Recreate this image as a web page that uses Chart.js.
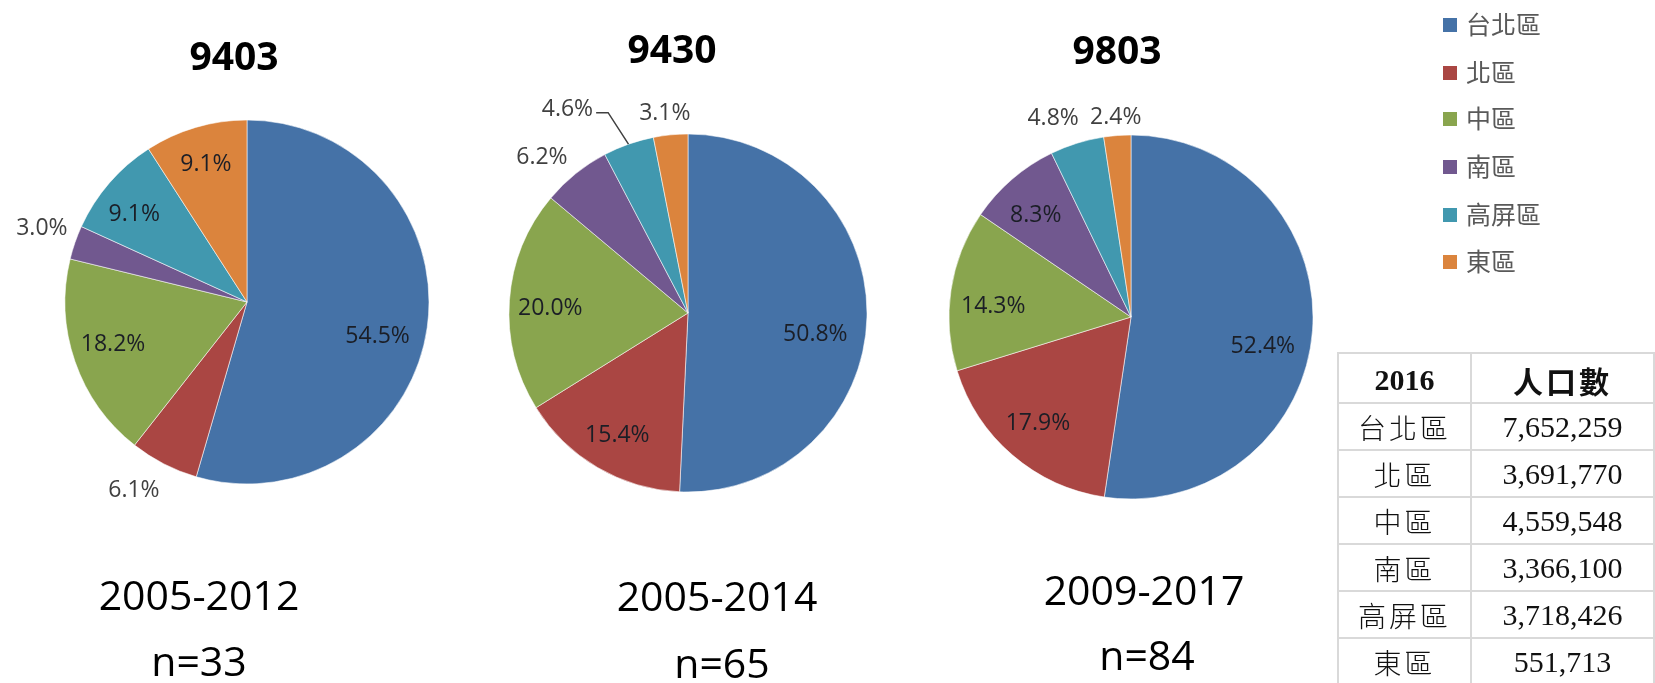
<!DOCTYPE html>
<html>
<head>
<meta charset="utf-8">
<script src="https://cdn.jsdelivr.net/npm/chart.js@4.4.1/dist/chart.umd.min.js"></script>
<style>
  html, body { margin: 0; padding: 0; background: #fff; }
  #stage { position: relative; width: 1655px; height: 683px; overflow: hidden; }
  #stage canvas { position: absolute; left: 0; top: 0; }
  .txt { position: absolute; transform: translateX(-50%); white-space: nowrap;
         font-family: "Open Sans", sans-serif; color: #000; line-height: 1; }
  .ttl { font-weight: 700; font-size: 39px; }
  .cap { font-size: 41px; }
  .lg { position: absolute; left: 1466px; line-height: 1; white-space: nowrap;
        font-family: "Noto Sans CJK TC", sans-serif; font-size: 25px; color: #595959; }
  .lg .sw { position: absolute; left: -23px; width: 14px; height: 14px; }
  #pop { position: absolute; left: 1337px; top: 352px; border-collapse: collapse;
         font-family: "Liberation Serif", "Noto Sans CJK TC", serif; font-size: 30px; color: #111; }
  #pop td { border: 2px solid #d9d9d9; padding: 0; text-align: center; vertical-align: middle; }
  #pop tr.head td { font-weight: 700; height: 43px; padding-top: 4px; }
  #pop tr.body td { height: 45px; }
  #pop .reg { letter-spacing: 3px; }
  #pop tr.body .reg { font-weight: 300; font-size: 28px; }
</style>
</head>
<body>
<div id="stage">
  <canvas id="pie1" width="1655" height="683"></canvas>
  <canvas id="pie2" width="1655" height="683"></canvas>
  <canvas id="pie3" width="1655" height="683"></canvas>
  <table id="pop"></table>
</div>
<script>
/* ── data ─────────────────────────────────────────────── */
const regions      = ["台北區", "北區", "中區", "南區", "高屏區", "東區"];
const regionColors = ["#4572a7", "#aa4643", "#89a54e", "#71588f", "#4198af", "#db843d"];

const chartCodes  = ["9403", "9430", "9803"];
const periods     = ["2005-2012", "2005-2014", "2009-2017"];
const sampleSizes = [33, 65, 84];

const share9403 = [54.5, 6.1, 18.2, 3.0, 9.1, 9.1];
const share9430 = [50.8, 15.4, 20.0, 6.2, 4.6, 3.1];
const share9803 = [52.4, 17.9, 14.3, 8.3, 4.8, 2.4];

const popYear        = "2016";
const popHeader      = "人口數";
const population2016 = [7652259, 3691770, 4559548, 3366100, 3718426, 551713];

/* ── layout (pie centres, radii, label placement) ─────── */
const W = 1655, H = 683;
const pies = [
  { id: "pie1", data: share9403, cx: 247,  cy: 302, r: 182,
    title: { x: 234, y: 56 }, cap: { x: 199, y: 596 }, n: { x: 199, y: 662 },
    dist: [0.74, 1.2, 0.77, 1.2, 0.79, 0.80], turn: [6, 4, 2, 1, -2.5, 0], leader: [] },
  { id: "pie2", data: share9430, cx: 688,  cy: 313, r: 179,
    title: { x: 672, y: 49 }, cap: { x: 717, y: 597 }, n: { x: 722, y: 664 },
    dist: [0.72, 0.78, 0.77, 1.2, 1.33, 1.13], turn: [7.5, 0, -1.5, -4, -11, -1], leader: [4] },
  { id: "pie3", data: share9803, cx: 1131, cy: 317, r: 182,
    title: { x: 1117, y: 50 }, cap: { x: 1144, y: 591 }, n: { x: 1147, y: 656 },
    dist: [0.74, 0.77, 0.76, 0.77, 1.18, 1.11], turn: [7.5, 1, -3.4, -2, -4, 0], leader: [] },
];
const legendY = [25, 73, 119, 167, 215, 262];

/* percentage labels, inside or outside the slice */
const pieLabels = {
  id: "pieLabels",
  afterDatasetsDraw(chart, args, opts) {
    const ctx = chart.ctx;
    const vals = chart.data.datasets[0].data;
    const fs = 23;
    chart.getDatasetMeta(0).data.forEach((arc, i) => {
      const p = arc.getProps(["x", "y", "startAngle", "endAngle", "outerRadius"], true);
      const mid = (p.startAngle + p.endAngle) / 2;
      const ang = mid + opts.turn[i] * Math.PI / 180;
      const lx = p.x + Math.cos(ang) * p.outerRadius * opts.dist[i];
      const ly = p.y + Math.sin(ang) * p.outerRadius * opts.dist[i];
      const text = vals[i].toFixed(1) + "%";
      ctx.save();
      ctx.font = fs + 'px "Open Sans"';
      ctx.textAlign = "center";
      ctx.textBaseline = "alphabetic";
      ctx.fillStyle = opts.dist[i] > 1 ? "#404040" : "#1b1e26";
      ctx.fillText(text, lx, ly + fs * 0.357);
      if (opts.leader.includes(i)) {
        const w = ctx.measureText(text).width;
        const sx = lx + w / 2 + 3, sy = ly + 5;
        ctx.strokeStyle = "#404040";
        ctx.lineWidth = 1.5;
        ctx.beginPath();
        ctx.moveTo(sx, sy);
        ctx.lineTo(sx + 12, sy);
        ctx.lineTo(p.x + Math.cos(mid) * p.outerRadius, p.y + Math.sin(mid) * p.outerRadius);
        ctx.stroke();
      }
      ctx.restore();
    });
  },
};

/* ── charts ───────────────────────────────────────────── */
pies.forEach((pc) => {
  new Chart(document.getElementById(pc.id), {
    type: "pie",
    data: {
      labels: regions,
      datasets: [{
        data: pc.data,
        backgroundColor: regionColors,
        borderColor: "rgba(255,255,255,0.55)",
        borderWidth: 1,
      }],
    },
    options: {
      responsive: false,
      animation: false,
      events: [],
      layout: {
        padding: {
          left: pc.cx - pc.r - 0.5,
          top: pc.cy - pc.r - 0.5,
          right: W - pc.cx - pc.r - 0.5,
          bottom: H - pc.cy - pc.r - 0.5,
        },
      },
      plugins: {
        legend: { display: false },
        tooltip: { enabled: false },
        pieLabels: { dist: pc.dist, turn: pc.turn, leader: pc.leader },
      },
    },
    plugins: [pieLabels],
  });
});

/* ── titles and captions ──────────────────────────────── */
const stage = document.getElementById("stage");
function addText(cls, text, x, y, fs) {
  const el = document.createElement("div");
  el.className = "txt " + cls;
  el.textContent = text;
  el.style.left = x + "px";
  el.style.top = (y - fs * 0.531) + "px";
  stage.appendChild(el);
}
pies.forEach((pc, i) => {
  addText("ttl", chartCodes[i], pc.title.x, pc.title.y, 39);
  addText("cap", periods[i], pc.cap.x, pc.cap.y, 41);
  addText("cap", "n=" + sampleSizes[i], pc.n.x, pc.n.y, 41);
});

/* ── legend ───────────────────────────────────────────── */
regions.forEach((name, i) => {
  const fs = 25;
  const item = document.createElement("div");
  item.className = "lg";
  item.style.top = (legendY[i] - fs * 0.556) + "px";
  item.innerHTML = `<span class="sw" style="background:${regionColors[i]};top:${fs * 0.556 - 7}px"></span>${name}`;
  stage.appendChild(item);
});

/* ── population table ─────────────────────────────────── */
const table = document.getElementById("pop");
table.innerHTML =
  `<colgroup><col style="width:133px"><col style="width:183px"></colgroup>` +
  `<tr class="head"><td>${popYear}</td><td class="reg">${popHeader}</td></tr>` +
  regions.map((r, i) =>
    `<tr class="body"><td class="reg">${r}</td><td>${population2016[i].toLocaleString("en-US")}</td></tr>`
  ).join("");
</script>
</body>
</html>
